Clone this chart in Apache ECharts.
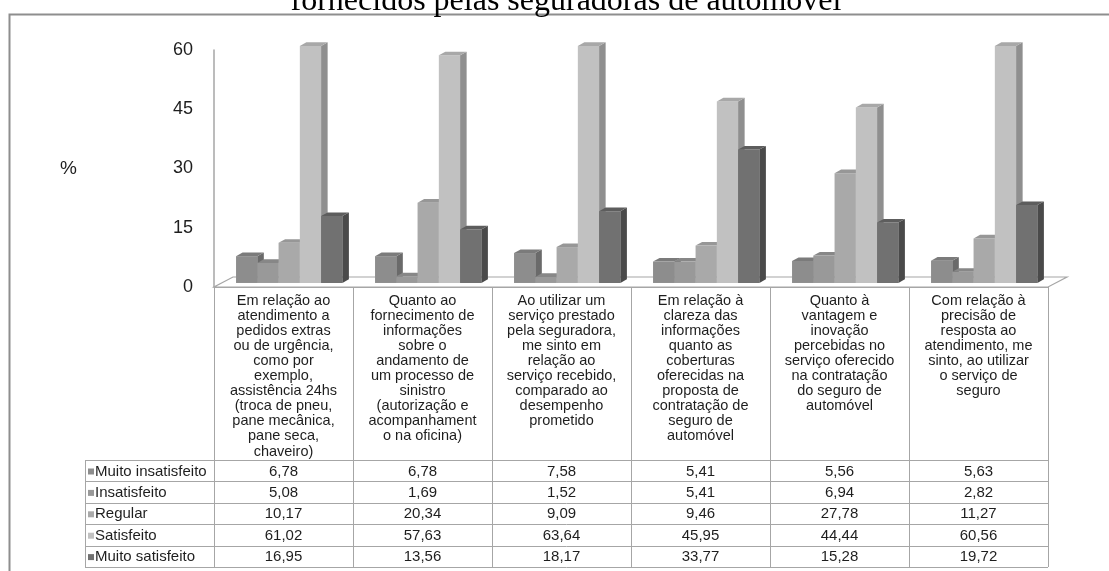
<!DOCTYPE html>
<html>
<head>
<meta charset="utf-8">
<title>Satisfação com os serviços de seguro de automóvel</title>
<script src="https://cdn.jsdelivr.net/npm/echarts@6/dist/echarts.min.js"></script>
<style>
  html, body { margin: 0; padding: 0; background: #ffffff; }
  #chart { width: 1109px; height: 571px; }
</style>
</head>
<body>
<div id="chart"></div>
<script>
// ---- data -------------------------------------------------------------
const titleText = 'fornecidos pelas seguradoras de automóvel';

const categories = [
  'Em relação ao\natendimento a\npedidos extras\nou de urgência,\ncomo por\nexemplo,\nassistência 24hs\n(troca de pneu,\npane mecânica,\npane seca,\nchaveiro)',
  'Quanto ao\nfornecimento de\ninformações\nsobre o\nandamento de\num processo de\nsinistro\n(autorização e\nacompanhament\no na oficina)',
  'Ao utilizar um\nserviço prestado\npela seguradora,\nme sinto em\nrelação ao\nserviço recebido,\ncomparado ao\ndesempenho\nprometido',
  'Em relação à\nclareza das\ninformações\nquanto as\ncoberturas\noferecidas na\nproposta de\ncontratação de\nseguro de\nautomóvel',
  'Quanto à\nvantagem e\ninovação\npercebidas no\nserviço oferecido\nna contratação\ndo seguro de\nautomóvel',
  'Com relação à\nprecisão de\nresposta ao\natendimento, me\nsinto, ao utilizar\no serviço de\nseguro'
];

const seriesNames = ['Muito insatisfeito', 'Insatisfeito', 'Regular', 'Satisfeito', 'Muito satisfeito'];

const muitoInsatisfeito = [6.78, 6.78, 7.58, 5.41, 5.56, 5.63];
const insatisfeito      = [5.08, 1.69, 1.52, 5.41, 6.94, 2.82];
const regular           = [10.17, 20.34, 9.09, 9.46, 27.78, 11.27];
const satisfeito        = [61.02, 57.63, 63.64, 45.95, 44.44, 60.56];
const muitoSatisfeito   = [16.95, 13.56, 18.17, 33.77, 15.28, 19.72];

const yTicks = [0, 15, 30, 45, 60];

// ---- styles -----------------------------------------------------------
const seriesValues = [muitoInsatisfeito, insatisfeito, regular, satisfeito, muitoSatisfeito];
const faceColors = [
  { front: '#8d8d8d', side: '#6a6a6a', top: '#7b7b7b' },
  { front: '#999999', side: '#757575', top: '#878787' },
  { front: '#a9a9a9', side: '#838383', top: '#979797' },
  { front: '#c1c1c1', side: '#8f8f8f', top: '#a8a8a8' },
  { front: '#717171', side: '#4a4a4a', top: '#5d5d5d' }
];
const lineGray = '#a6a6a6';
const textColor = '#1e1e1e';
const Y_MAX = yTicks[yTicks.length - 1];

const chart = echarts.init(document.getElementById('chart'), null, { renderer: 'canvas' });

// One 3D-looking column: front face, right side and top, pushed slightly
// back from the front edge of the floor.
function makeRenderItem(k) {
  return function (params, api) {
    const cat = api.value(0);
    const v = Math.min(api.value(1), Y_MAX);
    const band = api.size([1, 0])[0];
    const barW = band * 0.153;
    const dx = band * 0.047;
    const dy = -band * 0.026;
    const center = api.coord([cat, 0])[0];
    const left = center - 2.5 * barW + band * 0.041 + k * barW;
    const right = left + barW;
    const back = band * 0.029;
    const yBase = api.coord([cat, 0])[1] - back;
    const yTop = api.coord([cat, v])[1] - back;
    const c = faceColors[k];
    return {
      type: 'group',
      children: [
        { type: 'rect', shape: { x: left, y: yTop, width: barW, height: yBase - yTop },
          style: { fill: c.front } },
        { type: 'polygon', shape: { points: [[right, yTop], [right + dx, yTop + dy], [right + dx, yBase + dy], [right, yBase]] },
          style: { fill: c.side } },
        { type: 'polygon', shape: { points: [[left, yTop], [left + dx, yTop + dy], [right + dx, yTop + dy], [right, yTop]] },
          style: { fill: c.top } }
      ]
    };
  };
}

const series = seriesNames.map((name, k) => ({
  type: 'custom',
  name: name,
  renderItem: makeRenderItem(k),
  data: seriesValues[k].map((v, i) => [i, v]),
  encode: { x: 0, y: 1 },
  clip: false
}));

chart.setOption({
  animation: false,
  backgroundColor: '#ffffff',
  grid: { left: 214, right: 61, top: 50, bottom: 284, containLabel: false },
  xAxis: {
    type: 'category',
    data: categories,
    axisLine: { show: true, lineStyle: { color: lineGray, width: 1 } },
    axisTick: { show: false },
    axisLabel: {
      interval: 0,
      margin: 6,
      fontFamily: 'Liberation Sans',
      fontSize: 14.5,
      lineHeight: 15.1,
      color: textColor,
      align: 'center',
      verticalAlign: 'top'
    }
  },
  yAxis: {
    type: 'value',
    min: 0,
    max: Y_MAX,
    interval: 15,
    name: '%',
    nameLocation: 'middle',
    nameRotate: 0,
    nameGap: 137,
    nameTextStyle: { fontFamily: 'Liberation Sans', fontSize: 19, color: textColor },
    axisLine: { show: true, lineStyle: { color: lineGray, width: 1.5 } },
    axisTick: { show: false },
    splitLine: { show: false },
    axisLabel: { margin: 21, fontFamily: 'Liberation Sans', fontSize: 18, color: textColor }
  },
  series: series
});

// ---- frame, title, floor and the data table below the axis ------------
function buildGraphics() {
  const c0 = chart.convertToPixel({ xAxisIndex: 0 }, 0);
  const c1 = chart.convertToPixel({ xAxisIndex: 0 }, 1);
  const band = c1 - c0;
  const yZero = chart.convertToPixel({ yAxisIndex: 0 }, 0);
  const xStart = c0 - band / 2;
  const xEnd = xStart + band * categories.length;
  const floorDx = 19, floorDy = -10;

  const tableTop = yZero + 173;
  const rowH = 21.4;
  const tableBottom = tableTop + rowH * seriesNames.length;
  const legendLeft = 85;

  const g = [];

  // outer frame
  g.push({ type: 'rect', z: -10, shape: { x: 9.5, y: 14.5, width: 1200, height: 700 },
    style: { fill: 'none', stroke: '#8e8e8e', lineWidth: 2 } });

  // title (runs off the top edge)
  g.push({ type: 'text', x: 566, y: 2, z: 5,
    style: { text: titleText, font: '32px "Liberation Serif"', fill: '#000000',
      textAlign: 'center', textVerticalAlign: 'middle' } });

  // floor
  g.push({ type: 'polygon', z: 0, shape: { points: [
      [xStart, yZero], [xEnd, yZero], [xEnd + floorDx, yZero + floorDy], [xStart + floorDx, yZero + floorDy]
    ] }, style: { fill: '#ffffff', stroke: lineGray, lineWidth: 1.2 } });

  // table column borders
  for (let i = 0; i <= categories.length; i++) {
    const x = Math.round(xStart + i * band) + 0.5;
    g.push({ type: 'line', shape: { x1: x, y1: yZero, x2: x, y2: tableBottom },
      style: { stroke: lineGray, lineWidth: 1 } });
  }
  g.push({ type: 'line', shape: { x1: legendLeft + 0.5, y1: tableTop, x2: legendLeft + 0.5, y2: tableBottom },
    style: { stroke: lineGray, lineWidth: 1 } });

  // table row borders
  for (let r = 0; r <= seriesNames.length; r++) {
    const y = Math.round(tableTop + r * rowH) + 0.5;
    g.push({ type: 'line', shape: { x1: legendLeft, y1: y, x2: xEnd, y2: y },
      style: { stroke: lineGray, lineWidth: 1 } });
  }

  // legend keys, names and values
  seriesNames.forEach((name, r) => {
    const yc = tableTop + r * rowH + rowH / 2 + 0.8;
    g.push({ type: 'rect', shape: { x: legendLeft + 3, y: yc - 3, width: 6, height: 6 },
      style: { fill: faceColors[r].front } });
    g.push({ type: 'text', x: legendLeft + 10, y: yc,
      style: { text: name, font: '15px "Liberation Sans"', fill: textColor,
        textAlign: 'left', textVerticalAlign: 'middle' } });
    seriesValues[r].forEach((v, i) => {
      g.push({ type: 'text', x: xStart + (i + 0.5) * band, y: yc,
        style: { text: v.toFixed(2).replace('.', ','), font: '15px "Liberation Sans"', fill: textColor,
          textAlign: 'center', textVerticalAlign: 'middle' } });
    });
  });

  chart.setOption({ graphic: { elements: g } });
}

buildGraphics();
</script>
</body>
</html>
